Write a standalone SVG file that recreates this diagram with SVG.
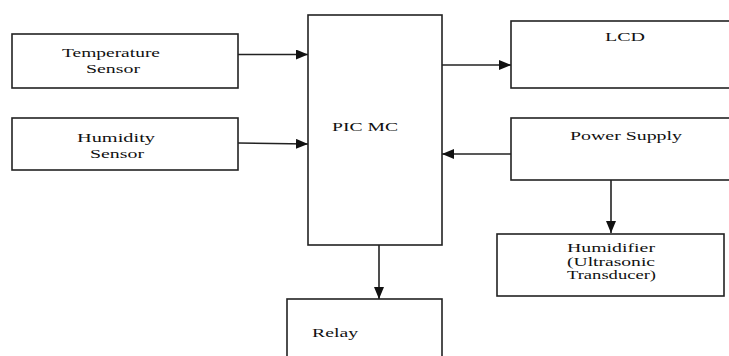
<svg xmlns="http://www.w3.org/2000/svg" width="729" height="356" viewBox="0 0 729 356">
<style>
.box{fill:#fff;stroke:#222;stroke-width:1.6}
.ln{fill:none;stroke:#222;stroke-width:1.6}
text{font-family:"Liberation Serif","Times New Roman",serif;font-size:13px;fill:#111}
.sm{font-size:12px}
</style>
<defs>
<marker id="ah" viewBox="0 0 12 10" refX="12" refY="5" markerWidth="12" markerHeight="10" markerUnits="userSpaceOnUse" orient="auto">
<path d="M0,0 L12,5 L0,10 Z" fill="#111"/>
</marker>
</defs>
<rect width="729" height="356" fill="#fff"/>
<g id="connectors">
<line class="ln" x1="238" y1="54.5" x2="308" y2="54.5" marker-end="url(#ah)"/>
<line class="ln" x1="238" y1="143" x2="308" y2="144" marker-end="url(#ah)"/>
<line class="ln" x1="442" y1="65" x2="511" y2="65" marker-end="url(#ah)"/>
<line class="ln" x1="511" y1="154" x2="442" y2="154" marker-end="url(#ah)"/>
<line class="ln" x1="611" y1="180" x2="611" y2="233" marker-end="url(#ah)"/>
<line class="ln" x1="379" y1="245" x2="379" y2="299" marker-end="url(#ah)"/>
</g>
<g id="temp">
<rect class="box" x="12" y="34" width="226" height="54"/>
<text x="62" y="57" textLength="98" lengthAdjust="spacingAndGlyphs">Temperature</text>
<text x="86" y="73" textLength="54" lengthAdjust="spacingAndGlyphs">Sensor</text>
</g>
<g id="humidity">
<rect class="box" x="12" y="118" width="226" height="52"/>
<text x="77" y="142" textLength="78" lengthAdjust="spacingAndGlyphs">Humidity</text>
<text x="90" y="158" textLength="54" lengthAdjust="spacingAndGlyphs">Sensor</text>
</g>
<g id="pic">
<rect class="box" x="308" y="15" width="134" height="230"/>
<text x="332" y="131" textLength="66" lengthAdjust="spacingAndGlyphs">PIC MC</text>
</g>
<g id="lcd">
<rect class="box" x="511" y="21" width="230" height="67"/>
<text x="605" y="41" textLength="40" lengthAdjust="spacingAndGlyphs">LCD</text>
</g>
<g id="power">
<rect class="box" x="511" y="118" width="230" height="62"/>
<text x="570" y="140" textLength="112" lengthAdjust="spacingAndGlyphs">Power Supply</text>
</g>
<g id="humidifier">
<rect class="box" x="497" y="234" width="227" height="62"/>
<text class="sm" x="567" y="252" textLength="88" lengthAdjust="spacingAndGlyphs">Humidifier</text>
<text class="sm" x="567" y="265.5" textLength="88" lengthAdjust="spacingAndGlyphs">(Ultrasonic</text>
<text class="sm" x="567" y="279" textLength="89" lengthAdjust="spacingAndGlyphs">Transducer)</text>
</g>
<g id="relay">
<rect class="box" x="287" y="299" width="155" height="70"/>
<text x="312" y="337" textLength="46" lengthAdjust="spacingAndGlyphs">Relay</text>
</g>
</svg>
